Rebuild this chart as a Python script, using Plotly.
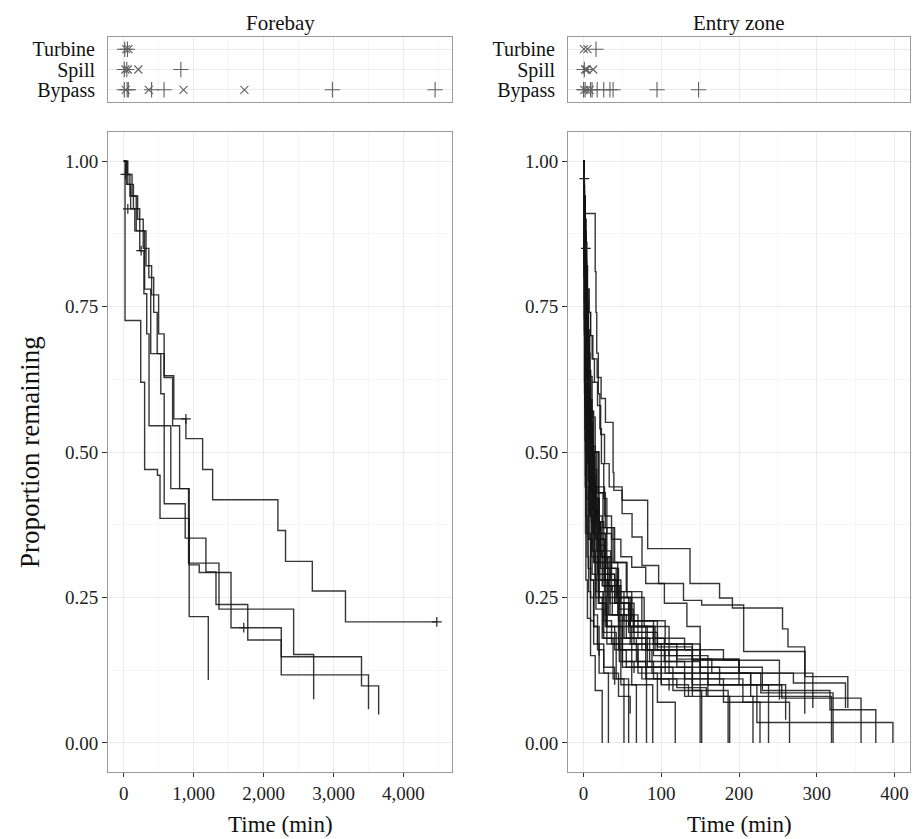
import plotly.graph_objects as go

FONT = "Liberation Serif"

# ---------------- Forebay Kaplan-Meier curves (time in min, proportion remaining)
forebay_times = [
    [0, 30, 90, 180, 300, 387, 579, 717, 890, 1129, 1272, 2205, 2314, 2697, 3171, 4476],
    [0, 20, 244, 300, 483, 520, 937, 1210],
    [0, 40, 100, 160, 230, 290, 330, 363, 674, 928, 1363, 2430, 2716],
    [0, 50, 120, 200, 280, 360, 430, 480, 531, 580, 880, 1176, 1320, 1774, 2253, 3500],
    [0, 60, 140, 230, 320, 400, 500, 579, 700, 800, 937, 1081, 1535, 2253, 3400, 3645],
]
forebay_surv = [
    [1.0, 0.977, 0.94, 0.88, 0.78, 0.669, 0.631, 0.557, 0.523, 0.470, 0.418, 0.365, 0.312, 0.261, 0.208, 0.208],
    [1.0, 0.726, 0.62, 0.47, 0.46, 0.386, 0.217, 0.108],
    [1.0, 0.96, 0.918, 0.88, 0.846, 0.772, 0.703, 0.545, 0.437, 0.309, 0.23, 0.152, 0.075],
    [1.0, 0.977, 0.94, 0.90, 0.85, 0.80, 0.74, 0.669, 0.60, 0.411, 0.352, 0.294, 0.238, 0.177, 0.117, 0.058],
    [1.0, 0.96, 0.918, 0.88, 0.82, 0.77, 0.703, 0.628, 0.545, 0.437, 0.306, 0.293, 0.198, 0.148, 0.098, 0.049],
]
forebay_censor_t = [25, 60, 250, 890, 1717, 4476]
forebay_censor_s = [0.977, 0.918, 0.846, 0.557, 0.198, 0.208]

# ---------------- Entry zone Kaplan-Meier curves
entry_times = [
    [0, 0.3, 0.6, 1, 1.3, 1.6, 2, 2.5, 3, 5, 9, 15, 24],
    [0, 0.5, 1, 1.5, 2, 2.5, 3, 4, 6, 9, 13, 20, 32],
    [0, 0.5, 1, 1.5, 2, 3, 4, 5, 7, 10, 15, 24, 38, 52],
    [0, 0.5, 1, 2, 3, 4, 5, 6, 8, 11, 16, 25, 42, 58],
    [0, 0.5, 1, 2, 3, 4, 5, 7, 9, 13, 19, 30, 48, 68],
    [0, 0.5, 1, 2, 3, 4, 5, 7, 9, 13, 19, 30, 50, 81],
    [0, 0.3, 0.6, 1, 2, 3, 4, 6, 8, 12, 18, 28, 45, 62, 89],
    [0, 0.5, 1, 2, 3, 4, 6, 8, 11, 15, 21, 32, 48, 70, 95, 118],
    [0, 0.5, 1, 2, 3, 5, 7, 9, 12, 16, 22, 34, 52, 80, 115, 152],
    [0, 0.5, 1, 1.5, 2, 3, 5, 7, 9, 13, 18, 27, 44, 65, 100, 140, 186],
    [0, 0.5, 1, 2, 3, 4, 6, 8, 11, 15, 21, 31, 46, 62, 88, 130, 188],
    [0, 0.5, 1, 2, 3, 5, 7, 9, 12, 17, 24, 36, 52, 75, 110, 160, 218],
    [0, 0.3, 0.6, 1, 1.5, 2, 3, 5, 7, 11, 16, 25, 37, 55, 85, 130, 180, 227],
    [0, 0.5, 1, 2, 3, 4, 6, 8, 10, 14, 19, 28, 40, 58, 90, 140, 238],
    [0, 0.5, 1, 1.5, 2, 3, 4, 6, 8, 11, 15, 22, 33, 48, 70, 104, 150, 205, 265],
    [0, 0.5, 1, 2, 3, 4, 6, 8, 11, 15, 20, 30, 44, 62, 95, 140, 215, 319],
    [0, 0.3, 0.6, 1, 1.5, 2, 3, 4, 6, 8, 12, 18, 27, 40, 60, 92, 150, 228, 321],
    [0, 0.5, 1, 1.5, 2, 3, 4, 6, 8, 10, 14, 20, 29, 42, 58, 82, 120, 175, 255, 357],
    [0, 0.5, 1, 2, 3, 4, 5, 7, 9, 12, 17, 25, 38, 55, 75, 105, 150, 230, 317, 376],
    [0, 0.5, 1, 1.5, 2, 3, 4, 5, 7, 9, 13, 19, 28, 40, 56, 78, 110, 160, 223, 398],
    [0, 0.5, 1, 2, 3, 4, 5, 7, 9, 12, 17.5, 22.6, 28.2, 38, 39, 49.6, 82.5, 137, 175, 191.5, 256, 263, 284.6],
    [0, 0.5, 1, 2, 3, 4, 5, 7, 9, 11, 14, 18, 22, 27, 33, 49.6, 62.4, 75.2, 96.6, 128.6, 152, 206, 285, 340],
    [0, 0.3, 0.6, 1, 1.5, 2, 3, 4, 6, 8, 11, 16, 26, 50, 80, 120, 158],
    [0, 0.5, 1, 1.5, 2, 3, 4, 6, 8, 10, 14, 20, 28, 44, 62, 90, 130, 180, 252],
    [0, 0.5, 1, 2, 3, 4, 5, 7, 9, 12, 16, 22, 31, 46, 64, 95, 140, 200, 295],
    [0, 0.3, 0.6, 1, 1.5, 2, 3, 4, 5, 7, 10, 14, 20, 28, 42, 60, 90, 140, 200, 270, 337],
    [0, 0.3, 0.6, 1, 1.5, 2, 3, 4, 6, 9, 13, 18, 26, 40],
    [0, 0.3, 0.6, 0.9, 1.2, 1.8, 2.5, 3, 4.5, 6.5, 9, 13, 20],
    [0, 0.5, 1, 1.5, 2, 3, 4, 5, 7, 10, 14, 19, 26, 36, 46, 65],
    [0, 0.5, 1, 1.5, 2, 3, 4, 6, 8, 12, 17, 24, 34, 50, 68, 90, 110],
    [0, 0.5, 1, 1.5, 2, 2.5, 3, 4, 6, 8, 11, 15, 20, 28, 40, 55, 75, 100, 135],
    [0, 0.3, 0.6, 1, 1.5, 2, 2.5, 3, 4, 6, 9, 13, 18, 26, 45, 60],
    [0, 0.5, 1, 2, 3, 4, 5, 7, 9, 13, 19, 27, 45, 60, 82, 100],
    [0, 1, 15, 16, 17, 19, 21, 23, 26, 30, 36, 45, 60, 80, 105, 140],
    [0, 0.5, 1, 2, 3, 4, 6, 8, 11, 15, 20, 27, 36, 48, 62, 80, 104, 133, 150, 200],
    [0, 0.5, 1, 1.5, 2, 3, 4, 5, 7, 10, 14, 19, 26, 35, 48, 65, 90, 120, 165, 215, 260],
    [0, 0.3, 0.6, 1, 1.5, 2, 3, 4, 5, 7, 10, 14, 20, 30, 46, 70, 100, 150],
]
entry_surv = [
    [1, 0.9, 0.8, 0.7, 0.6, 0.52, 0.44, 0.36, 0.28, 0.214, 0.15, 0.09, 0],
    [1, 0.92, 0.84, 0.76, 0.68, 0.6, 0.52, 0.44, 0.36, 0.28, 0.2, 0.12, 0],
    [1, 0.94, 0.87, 0.8, 0.72, 0.64, 0.56, 0.48, 0.4, 0.32, 0.25, 0.18, 0.11, 0],
    [1, 0.95, 0.89, 0.82, 0.74, 0.66, 0.57, 0.49, 0.41, 0.33, 0.26, 0.19, 0.11, 0],
    [1, 0.94, 0.87, 0.79, 0.71, 0.63, 0.55, 0.47, 0.39, 0.31, 0.24, 0.17, 0.1, 0],
    [1, 0.96, 0.91, 0.85, 0.78, 0.7, 0.62, 0.53, 0.44, 0.36, 0.28, 0.2, 0.13, 0],
    [1, 0.95, 0.9, 0.84, 0.77, 0.69, 0.61, 0.52, 0.44, 0.36, 0.29, 0.22, 0.16, 0.1, 0],
    [1, 0.95, 0.89, 0.83, 0.76, 0.68, 0.6, 0.51, 0.43, 0.35, 0.28, 0.22, 0.17, 0.12, 0.07, 0],
    [1, 0.96, 0.91, 0.85, 0.77, 0.69, 0.61, 0.52, 0.44, 0.37, 0.3, 0.24, 0.18, 0.13, 0.09, 0],
    [1, 0.96, 0.92, 0.87, 0.81, 0.74, 0.66, 0.58, 0.5, 0.42, 0.35, 0.28, 0.22, 0.17, 0.13, 0.09, 0],
    [1, 0.95, 0.9, 0.84, 0.77, 0.7, 0.62, 0.54, 0.46, 0.38, 0.31, 0.25, 0.2, 0.16, 0.12, 0.08, 0],
    [1, 0.96, 0.91, 0.85, 0.78, 0.71, 0.63, 0.55, 0.47, 0.39, 0.32, 0.26, 0.21, 0.16, 0.12, 0.08, 0],
    [1, 0.95, 0.9, 0.84, 0.78, 0.71, 0.64, 0.56, 0.48, 0.4, 0.33, 0.27, 0.22, 0.18, 0.14, 0.11, 0.07, 0],
    [1, 0.97, 0.93, 0.88, 0.82, 0.75, 0.67, 0.59, 0.5, 0.42, 0.35, 0.29, 0.24, 0.19, 0.15, 0.1, 0],
    [1, 0.96, 0.92, 0.87, 0.81, 0.75, 0.68, 0.6, 0.52, 0.45, 0.38, 0.32, 0.27, 0.22, 0.18, 0.14, 0.11, 0.07, 0],
    [1, 0.96, 0.92, 0.87, 0.81, 0.74, 0.67, 0.59, 0.51, 0.44, 0.37, 0.31, 0.26, 0.21, 0.16, 0.12, 0.08, 0],
    [1, 0.95, 0.9, 0.85, 0.79, 0.73, 0.67, 0.6, 0.53, 0.46, 0.4, 0.34, 0.29, 0.24, 0.2, 0.16, 0.12, 0.086, 0],
    [1, 0.96, 0.92, 0.87, 0.82, 0.76, 0.7, 0.63, 0.56, 0.49, 0.42, 0.36, 0.3, 0.25, 0.2, 0.16, 0.13, 0.1, 0.077, 0],
    [1, 0.97, 0.93, 0.88, 0.83, 0.77, 0.71, 0.64, 0.57, 0.5, 0.43, 0.37, 0.31, 0.26, 0.21, 0.17, 0.13, 0.09, 0.057, 0],
    [1, 0.97, 0.94, 0.9, 0.86, 0.81, 0.76, 0.7, 0.64, 0.57, 0.5, 0.43, 0.37, 0.31, 0.25, 0.2, 0.15, 0.1, 0.035, 0],
    [1, 0.97, 0.94, 0.9, 0.86, 0.82, 0.78, 0.74, 0.7, 0.66, 0.628, 0.592, 0.551, 0.465, 0.434, 0.417, 0.334, 0.274, 0.249, 0.232, 0.196, 0.165, 0.05],
    [1, 0.97, 0.94, 0.9, 0.86, 0.82, 0.78, 0.74, 0.7, 0.66, 0.62, 0.58, 0.53, 0.48, 0.44, 0.394, 0.354, 0.305, 0.274, 0.245, 0.237, 0.157, 0.114, 0.06],
    [1, 0.94, 0.88, 0.81, 0.74, 0.66, 0.58, 0.5, 0.42, 0.35, 0.29, 0.23, 0.18, 0.14, 0.11, 0.095, 0.079],
    [1, 0.96, 0.92, 0.87, 0.82, 0.76, 0.7, 0.63, 0.56, 0.49, 0.42, 0.36, 0.3, 0.25, 0.21, 0.18, 0.16, 0.142, 0.074],
    [1, 0.95, 0.9, 0.84, 0.78, 0.72, 0.65, 0.58, 0.51, 0.44, 0.38, 0.32, 0.27, 0.23, 0.19, 0.165, 0.142, 0.12, 0.06],
    [1, 0.96, 0.92, 0.87, 0.81, 0.75, 0.69, 0.63, 0.56, 0.5, 0.44, 0.38, 0.33, 0.28, 0.24, 0.2, 0.17, 0.144, 0.12, 0.103, 0.06],
    [1, 0.92, 0.84, 0.76, 0.67, 0.58, 0.5, 0.42, 0.35, 0.28, 0.22, 0.17, 0.13, 0.1],
    [1, 0.9, 0.8, 0.71, 0.62, 0.54, 0.46, 0.39, 0.32, 0.26, 0.21, 0.17, 0.15],
    [1, 0.95, 0.89, 0.83, 0.76, 0.69, 0.61, 0.53, 0.46, 0.39, 0.32, 0.26, 0.21, 0.17, 0.14, 0.12],
    [1, 0.94, 0.88, 0.82, 0.75, 0.68, 0.61, 0.54, 0.47, 0.4, 0.33, 0.27, 0.22, 0.18, 0.14, 0.11, 0.09],
    [1, 0.93, 0.87, 0.8, 0.73, 0.66, 0.59, 0.52, 0.45, 0.39, 0.33, 0.28, 0.24, 0.2, 0.16, 0.13, 0.11, 0.1, 0.08],
    [1, 0.91, 0.82, 0.73, 0.65, 0.57, 0.5, 0.43, 0.36, 0.3, 0.25, 0.2, 0.16, 0.12, 0.08, 0.05],
    [1, 0.92, 0.85, 0.78, 0.71, 0.64, 0.57, 0.5, 0.43, 0.37, 0.31, 0.26, 0.21, 0.17, 0.13, 0.1],
    [1, 0.91, 0.81, 0.74, 0.67, 0.6, 0.54, 0.48, 0.42, 0.36, 0.3, 0.25, 0.2, 0.16, 0.12, 0.08],
    [1, 0.96, 0.92, 0.87, 0.82, 0.76, 0.7, 0.63, 0.56, 0.5, 0.44, 0.39, 0.35, 0.32, 0.302, 0.274, 0.24, 0.2, 0.144, 0.1],
    [1, 0.95, 0.9, 0.85, 0.8, 0.74, 0.68, 0.62, 0.56, 0.5, 0.44, 0.38, 0.33, 0.28, 0.24, 0.2, 0.17, 0.144, 0.12, 0.1, 0.04],
    [1, 0.95, 0.9, 0.85, 0.79, 0.73, 0.66, 0.59, 0.52, 0.45, 0.38, 0.31, 0.25, 0.2, 0.16, 0.13, 0.11, 0],
]
entry_censor_t = [1, 3, 8]
entry_censor_s = [0.97, 0.85, 0.62]

# ---------------- Top strip: fate events (× and + marks) by route
route_labels = ["Bypass", "Spill", "Turbine"]
fb_turbine_plus = [15, 55]
fb_turbine_x = [35, 70]
fb_spill_plus = [10, 45, 818]
fb_spill_x = [25, 60, 210]
fb_bypass_plus = [10, 50, 67, 400, 578, 2984, 4452]
fb_bypass_x = [30, 360, 856, 1726]
ez_turbine_plus = [16]
ez_turbine_x = [0.5, 5]
ez_spill_plus = [1]
ez_spill_x = [2, 4, 12.4]
ez_bypass_plus = [0, 2, 9, 11, 17.5, 26, 34, 38, 94.5, 148]
ez_bypass_x = [1, 4, 8]

LINE = dict(shape="hv", color="rgba(20,20,20,0.85)", width=1.4)
MARK_COL = "#606060"

fig = go.Figure()

def add_curves(times, survs, xa, ya):
    for t, s in zip(times, survs):
        fig.add_trace(go.Scatter(x=t, y=s, mode="lines", line=LINE, xaxis=xa, yaxis=ya,
                                 showlegend=False, hoverinfo="skip"))

add_curves(forebay_times, forebay_surv, "x", "y")
add_curves(entry_times, entry_surv, "x2", "y2")

for ct, cs, xa, ya in [(forebay_censor_t, forebay_censor_s, "x", "y"),
                       (entry_censor_t, entry_censor_s, "x2", "y2")]:
    fig.add_trace(go.Scatter(x=ct, y=cs, mode="markers", xaxis=xa, yaxis=ya, showlegend=False,
                             hoverinfo="skip",
                             marker=dict(symbol="cross-thin-open", size=7, color="#222",
                                         line=dict(width=1.2, color="#222"))))

def add_strip(vals, row, sym, xa, ya):
    fig.add_trace(go.Scatter(x=vals, y=[row] * len(vals), mode="markers", xaxis=xa, yaxis=ya,
                             showlegend=False, hoverinfo="skip",
                             marker=dict(symbol=sym, size=11 if "cross" in sym else 8,
                                         color=MARK_COL, line=dict(width=1.1, color=MARK_COL))))

for vals, row, sym in [(fb_turbine_plus, 3, "cross-thin-open"), (fb_turbine_x, 3, "x-thin-open"),
                       (fb_spill_plus, 2, "cross-thin-open"), (fb_spill_x, 2, "x-thin-open"),
                       (fb_bypass_plus, 1, "cross-thin-open"), (fb_bypass_x, 1, "x-thin-open")]:
    add_strip(vals, row, sym, "x3", "y3")
for vals, row, sym in [(ez_turbine_plus, 3, "cross-thin-open"), (ez_turbine_x, 3, "x-thin-open"),
                       (ez_spill_plus, 2, "cross-thin-open"), (ez_spill_x, 2, "x-thin-open"),
                       (ez_bypass_plus, 1, "cross-thin-open"), (ez_bypass_x, 1, "x-thin-open")]:
    add_strip(vals, row, sym, "x4", "y4")

# page body has an 8px margin: lay out in window pixels, then shift
OFF = 8
W, H = 914, 831
def dx(a, b):
    return [(a - OFF) / W, (b - OFF) / W]
def dy(top, bot):
    return [1 - (bot - OFF) / H, 1 - (top - OFF) / H]
def px(x):
    return (x - OFF) / W
def py(y):
    return 1 - (y - OFF) / H

GRID = "#ebebeb"
MINOR = "#f5f5f5"
BORDER = "#9a9a9a"
TICKFONT = dict(family=FONT, size=19, color="#222")

common_x = dict(showgrid=True, gridcolor=GRID, gridwidth=1, zeroline=False, showline=True,
                linecolor=BORDER, linewidth=1, mirror=True, ticks="outside", ticklen=4,
                tickcolor="#333", tickfont=TICKFONT)
common_y = dict(showgrid=True, gridcolor=GRID, gridwidth=1, zeroline=False, showline=True,
                linecolor=BORDER, linewidth=1, mirror=True, ticks="outside", ticklen=5,
                tickcolor="#333", tickfont=TICKFONT)

main_top, main_bot = 132, 772
strip_top, strip_bot = 37, 102
fb_l, fb_r = 108, 452
ez_l, ez_r = 568, 910

STRIPFONT = dict(family=FONT, size=20, color="#111")

fig.update_layout(
    width=W, height=H, margin=dict(l=0, r=0, t=0, b=0),
    paper_bgcolor="white", plot_bgcolor="white",
    font=dict(family=FONT, color="#222"),
    xaxis=dict(domain=dx(fb_l, fb_r), anchor="y", range=[-223.5, 4693.5], tick0=0, dtick=1000,
               tickformat=",", minor=dict(dtick=500, tick0=0, showgrid=True, gridcolor=MINOR),
               **common_x),
    yaxis=dict(domain=dy(main_top, main_bot), anchor="x", range=[-0.05, 1.05], tick0=0, dtick=0.25,
               tickformat=".2f", minor=dict(dtick=0.125, tick0=0, showgrid=True, gridcolor=MINOR),
               **common_y),
    xaxis2=dict(domain=dx(ez_l, ez_r), anchor="y2", range=[-20, 420], tick0=0, dtick=100,
                minor=dict(dtick=50, tick0=0, showgrid=True, gridcolor=MINOR), **common_x),
    yaxis2=dict(domain=dy(main_top, main_bot), anchor="x2", range=[-0.05, 1.05], tick0=0, dtick=0.25,
                tickformat=".2f", minor=dict(dtick=0.125, tick0=0, showgrid=True, gridcolor=MINOR),
                **common_y),
    xaxis3=dict(domain=dx(fb_l, fb_r), anchor="y3", matches="x", showticklabels=False, ticks="",
                showgrid=True, gridcolor=GRID, zeroline=False, showline=True, linecolor=BORDER,
                mirror=True, tick0=0, dtick=1000,
                minor=dict(dtick=500, tick0=0, showgrid=True, gridcolor=MINOR)),
    yaxis3=dict(domain=dy(strip_top, strip_bot), anchor="x3", range=[0.4, 3.6], tickmode="array",
                tickvals=[1, 2, 3], ticktext=route_labels, ticks="outside", ticklen=8,
                tickcolor="rgba(0,0,0,0)", showgrid=True, gridcolor=GRID, zeroline=False,
                showline=True, linecolor=BORDER, mirror=True, tickfont=STRIPFONT),
    xaxis4=dict(domain=dx(ez_l, ez_r), anchor="y4", matches="x2", showticklabels=False, ticks="",
                showgrid=True, gridcolor=GRID, zeroline=False, showline=True, linecolor=BORDER,
                mirror=True, tick0=0, dtick=100,
                minor=dict(dtick=50, tick0=0, showgrid=True, gridcolor=MINOR)),
    yaxis4=dict(domain=dy(strip_top, strip_bot), anchor="x4", range=[0.4, 3.6], tickmode="array",
                tickvals=[1, 2, 3], ticktext=route_labels, ticks="outside", ticklen=8,
                tickcolor="rgba(0,0,0,0)", showgrid=True, gridcolor=GRID, zeroline=False,
                showline=True, linecolor=BORDER, mirror=True, tickfont=STRIPFONT),
)

ann = []
for txt, xc in [("Forebay", (fb_l + fb_r) / 2), ("Entry zone", (ez_l + ez_r) / 2)]:
    ann.append(dict(text=txt, x=px(xc), y=py(9), xref="paper", yref="paper", showarrow=False,
                    xanchor="center", yanchor="top", font=dict(family=FONT, size=21, color="#111")))
for xc in [(fb_l + fb_r) / 2, (ez_l + ez_r) / 2]:
    ann.append(dict(text="Time (min)", x=px(xc), y=py(824), xref="paper", yref="paper",
                    showarrow=False, xanchor="center", yanchor="middle",
                    font=dict(family=FONT, size=23, color="#111")))
ann.append(dict(text="Proportion remaining", x=px(30), y=py(452), xref="paper", yref="paper",
                showarrow=False, textangle=-90, xanchor="center", yanchor="middle",
                font=dict(family=FONT, size=27, color="#111")))
fig.update_layout(annotations=ann)

fig.write_html("out.html")
